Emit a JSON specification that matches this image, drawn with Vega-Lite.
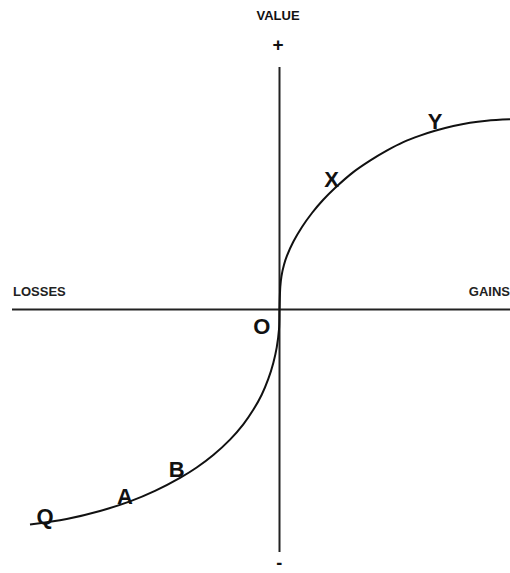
{
  "$schema": "https://vega.github.io/schema/vega-lite/v6.json",
  "width": 510,
  "height": 573,
  "autosize": {"type": "none"},
  "padding": 0,
  "background": "white",
  "config": {"view": {"stroke": null}},
  "datasets": {
    "curve": [
      {"gain": -249.5, "value": -215},
      {"gain": -212.8, "value": -209.5},
      {"gain": -179.5, "value": -201.5},
      {"gain": -149.5, "value": -191.9},
      {"gain": -124.5, "value": -181.4},
      {"gain": -99.5, "value": -168.4},
      {"gain": -82.8, "value": -158},
      {"gain": -66.2, "value": -145.5},
      {"gain": -49.5, "value": -130.1},
      {"gain": -36.2, "value": -114.8},
      {"gain": -26.2, "value": -100.3},
      {"gain": -17.8, "value": -85.2},
      {"gain": -11.2, "value": -69.4},
      {"gain": -6.2, "value": -53.4},
      {"gain": -2.8, "value": -38.1},
      {"gain": -0.5, "value": -19.7},
      {"gain": 0, "value": 0},
      {"gain": 0.8, "value": 22.7},
      {"gain": 2, "value": 33.5},
      {"gain": 4.5, "value": 44.8},
      {"gain": 7.5, "value": 53.8},
      {"gain": 13.8, "value": 67.7},
      {"gain": 22.5, "value": 82.5},
      {"gain": 32.5, "value": 96.5},
      {"gain": 43.5, "value": 109.5},
      {"gain": 55.5, "value": 121.5},
      {"gain": 73.8, "value": 137.4},
      {"gain": 90.5, "value": 148.9},
      {"gain": 107.2, "value": 158.9},
      {"gain": 123.8, "value": 167.4},
      {"gain": 140.5, "value": 173.9},
      {"gain": 155.5, "value": 178.7},
      {"gain": 173.8, "value": 183.5},
      {"gain": 190.5, "value": 186.8},
      {"gain": 207.2, "value": 188.8},
      {"gain": 230.5, "value": 190.2}
    ],
    "axes": [
      {"x1": -267.5, "x2": 230.5, "y1": 0, "y2": 0},
      {"x1": 0, "x2": 0, "y1": 242.5, "y2": -242.5}
    ],
    "points": [
      {"label": "O", "gain": -17.8, "value": -17.8},
      {"label": "X", "gain": 52.2, "value": 129.5},
      {"label": "Y", "gain": 155.5, "value": 187.8},
      {"label": "Q", "gain": -234.5, "value": -207.2},
      {"label": "A", "gain": -154.5, "value": -187.2},
      {"label": "B", "gain": -102.8, "value": -160.5}
    ],
    "sides": [
      {"label": "LOSSES", "gain": -266.5, "value": 17.8, "align": "left"},
      {"label": "GAINS", "gain": 230.5, "value": 17.8, "align": "right"}
    ],
    "top": [
      {"label": "VALUE", "gain": -1.5, "value": 293.8, "size": 13},
      {"label": "+", "gain": -1.5, "value": 264.5, "size": 19}
    ],
    "bottom": [
      {"label": "-", "gain": -0.2, "value": -263.5}
    ]
  },
  "layer": [
    {
      "data": {"name": "axes"},
      "mark": {"type": "rule", "color": "#222", "strokeWidth": 2},
      "encoding": {
        "x": {"field": "x1", "type": "quantitative", "scale": {"domain": [-279.5, 230.5], "nice": false, "zero": false}, "axis": null},
        "x2": {"field": "x2"},
        "y": {"field": "y1", "type": "quantitative", "scale": {"domain": [-263.5, 309.5], "nice": false, "zero": false}, "axis": null},
        "y2": {"field": "y2"}
      }
    },
    {
      "data": {"name": "curve"},
      "mark": {"type": "line", "color": "#111", "strokeWidth": 2, "interpolate": "catmull-rom"},
      "encoding": {
        "x": {"field": "gain", "type": "quantitative"},
        "y": {"field": "value", "type": "quantitative"}
      }
    },
    {
      "data": {"name": "points"},
      "mark": {"type": "text", "font": "Liberation Sans", "fontWeight": "bold", "fontSize": 22, "color": "#111", "baseline": "middle", "align": "center"},
      "encoding": {
        "x": {"field": "gain", "type": "quantitative"},
        "y": {"field": "value", "type": "quantitative"},
        "text": {"field": "label"}
      }
    },
    {
      "data": {"name": "sides"},
      "transform": [{"filter": "datum.align == 'left'"}],
      "mark": {"type": "text", "font": "Liberation Sans", "fontWeight": "bold", "fontSize": 13, "color": "#222", "baseline": "middle", "align": "left"},
      "encoding": {
        "x": {"field": "gain", "type": "quantitative"},
        "y": {"field": "value", "type": "quantitative"},
        "text": {"field": "label"}
      }
    },
    {
      "data": {"name": "sides"},
      "transform": [{"filter": "datum.align == 'right'"}],
      "mark": {"type": "text", "font": "Liberation Sans", "fontWeight": "bold", "fontSize": 13, "color": "#222", "baseline": "middle", "align": "right"},
      "encoding": {
        "x": {"field": "gain", "type": "quantitative"},
        "y": {"field": "value", "type": "quantitative"},
        "text": {"field": "label"}
      }
    },
    {
      "data": {"name": "top"},
      "mark": {"type": "text", "font": "Liberation Sans", "fontWeight": "bold", "color": "#111", "baseline": "middle", "align": "center"},
      "encoding": {
        "x": {"field": "gain", "type": "quantitative"},
        "y": {"field": "value", "type": "quantitative"},
        "text": {"field": "label"},
        "size": {"field": "size", "type": "quantitative", "scale": null}
      }
    },
    {
      "data": {"name": "bottom"},
      "mark": {"type": "text", "font": "Liberation Sans", "fontWeight": "bold", "fontSize": 18, "color": "#111", "baseline": "bottom", "align": "center"},
      "encoding": {
        "x": {"field": "gain", "type": "quantitative"},
        "y": {"field": "value", "type": "quantitative"},
        "text": {"field": "label"}
      }
    }
  ]
}
